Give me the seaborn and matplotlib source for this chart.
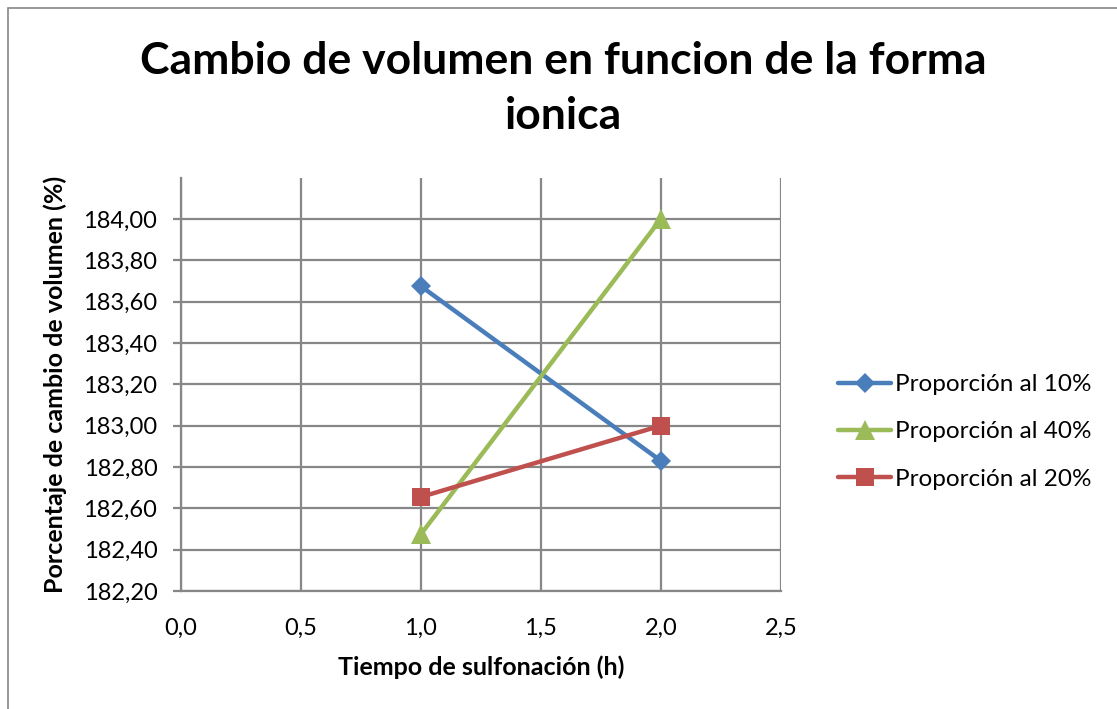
import matplotlib
matplotlib.use("Agg")
import matplotlib.pyplot as plt
import seaborn as sns
import pandas as pd
from matplotlib.patches import Rectangle
from matplotlib.ticker import FuncFormatter

# Series data
tiempo = [1.0, 2.0]
prop_10 = [183.675, 182.83]
prop_40 = [182.475, 184.00]
prop_20 = [182.655, 183.00]
series_names = ["Proporción al 10%", "Proporción al 40%", "Proporción al 20%"]
x_ticks = [0.0, 0.5, 1.0, 1.5, 2.0, 2.5]
y_ticks = [182.2, 182.4, 182.6, 182.8, 183.0, 183.2, 183.4, 183.6, 183.8, 184.0]

df = pd.DataFrame({
    "Tiempo": tiempo * 3,
    "Valor": prop_10 + prop_40 + prop_20,
    "Serie": [series_names[0]] * 2 + [series_names[1]] * 2 + [series_names[2]] * 2,
})

sns.set_theme(style="white")
plt.rcParams["font.family"] = ["Lato", "DejaVu Sans"]
plt.rcParams["text.color"] = "black"
plt.rcParams["axes.labelcolor"] = "black"

colors = {series_names[0]: "#4A7EBB", series_names[1]: "#9BBB59", series_names[2]: "#C0504D"}
markers = {series_names[0]: "D", series_names[1]: "^", series_names[2]: "s"}
msizes = {series_names[0]: 10, series_names[1]: 14, series_names[2]: 13}

fig = plt.figure(figsize=(11.17, 7.09), dpi=100)
ax = fig.add_axes([0.162, 0.1664, 0.537, 0.583])

for name in series_names:
    sub = df[df["Serie"] == name]
    sns.lineplot(data=sub, x="Tiempo", y="Valor", ax=ax, color=colors[name],
                 marker=markers[name], markersize=msizes[name], linewidth=3.2,
                 markeredgewidth=0, label=name)

ax.set_xlim(0, 2.5)
ax.set_ylim(182.2, 184.2)
ax.set_xticks(x_ticks)
ax.set_yticks(y_ticks)
ax.xaxis.set_major_formatter(FuncFormatter(lambda v, p: f"{v:.1f}".replace(".", ",")))
ax.yaxis.set_major_formatter(FuncFormatter(lambda v, p: f"{v:.2f}".replace(".", ",")))
ax.grid(True, color="#878787", linewidth=1.6)
ax.set_axisbelow(True)
for s in ["top", "right"]:
    ax.spines[s].set_visible(False)
for s in ["left", "bottom"]:
    ax.spines[s].set_color("#878787")
    ax.spines[s].set_linewidth(1.6)
ax.tick_params(axis="y", length=6, width=1.6, color="#878787", labelcolor="black",
               labelsize=17, pad=11, left=True)
ax.tick_params(axis="x", length=0, labelcolor="black", labelsize=17, pad=19)

ax.set_xlabel("Tiempo de sulfonación (h)", fontsize=18, fontweight="bold", labelpad=12)
ax.set_ylabel("Porcentaje de cambio de volumen (%)", fontsize=18, fontweight="bold", labelpad=12)

fig.text(0.5045, 0.942, "Cambio de volumen en funcion de la forma\nionica", ha="center", va="top",
         fontsize=32, fontweight="bold", linespacing=1.45)

leg = ax.legend(loc="center left", bbox_to_anchor=(1.095, 0.385), frameon=False, fontsize=17.5,
                handlelength=2.2, labelspacing=1.08, handletextpad=0.15,
                borderpad=0, borderaxespad=0)

# chart border
fig.patches.append(Rectangle((8 / 1117, -0.1), 1.2, (709 - 8) / 709 + 0.1, transform=fig.transFigure,
                             fill=False, edgecolor="#888888", linewidth=1.2))

fig.savefig("out.png", dpi=100, facecolor="white")
